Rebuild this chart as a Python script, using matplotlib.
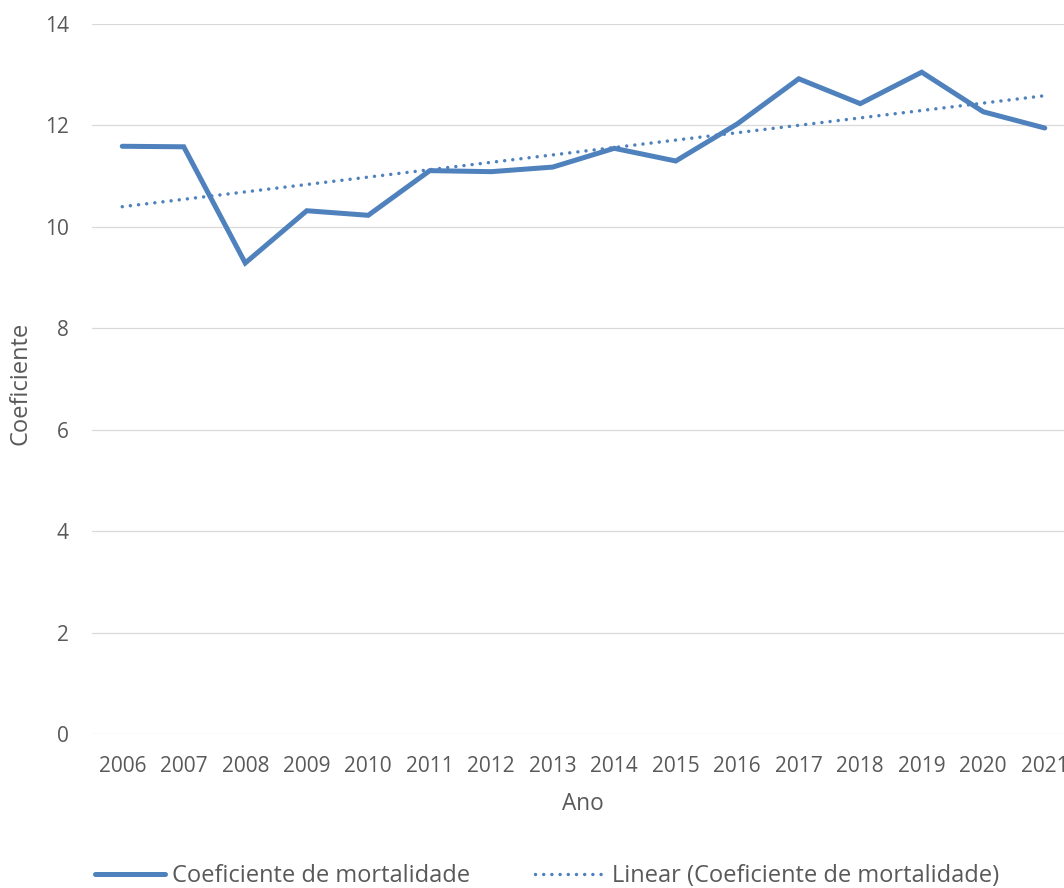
import numpy as np
import matplotlib
matplotlib.use("Agg")
import matplotlib.pyplot as plt

# Data
anos = ["2006", "2007", "2008", "2009", "2010", "2011", "2012", "2013",
        "2014", "2015", "2016", "2017", "2018", "2019", "2020", "2021"]
coeficiente = [11.59, 11.58, 9.29, 10.32, 10.23, 11.11, 11.09, 11.18,
               11.55, 11.30, 12.03, 12.92, 12.43, 13.05, 12.27, 11.95]
y_ticks = [0, 2, 4, 6, 8, 10, 12, 14]

plt.rcParams["font.family"] = ["Open Sans", "DejaVu Sans"]
text_color = "#595959"
line_color = "#4F81BD"

fig = plt.figure(figsize=(10.64, 8.88), dpi=100)
ax = fig.add_axes([0.0860, 0.1729, 0.9248, 0.8001])

x = np.arange(len(anos))
ax.plot(x, coeficiente, color=line_color, linewidth=3.6,
        solid_capstyle="round", solid_joinstyle="miter",
        label="Coeficiente de mortalidade", zorder=3)

# Linear trendline (least squares, as Excel does)
slope, intercept = np.polyfit(x, coeficiente, 1)
ax.plot(x, slope * x + intercept, color=line_color, linewidth=2.5,
        linestyle=(0, (0.01, 2.35)), dash_capstyle="round",
        label="Linear (Coeficiente de mortalidade)", zorder=3)

ax.set_xlim(-0.5, len(anos) - 0.5)
ax.set_ylim(0, 14)
ax.set_xticks(x)
ax.set_xticklabels(anos)
ax.set_yticks(y_ticks)
ax.grid(True, axis="y", color="#D9D9D9", linewidth=0.9)
ax.set_axisbelow(True)
for s in ax.spines.values():
    s.set_visible(False)
ax.tick_params(axis="both", length=0, colors=text_color, labelsize=15)
ax.tick_params(axis="x", pad=15.5)
ax.tick_params(axis="y", pad=16.5)

fig.text(582.5 / 1064, 1 - 804 / 888, "Ano", ha="center", va="center",
         fontsize=16.3, color=text_color)
fig.text(21 / 1064, 1 - 383 / 888, "Coeficiente", ha="center", va="center",
         rotation=90, fontsize=17, color=text_color)

leg = fig.legend(loc="center left", bbox_to_anchor=(95 / 1064, 1 - 876 / 888),
                 ncol=2, frameon=False, fontsize=17, handlelength=2.97,
                 handletextpad=0.3, columnspacing=2.75, borderaxespad=0,
                 borderpad=0)
for t in leg.get_texts():
    t.set_color(text_color)

fig.savefig("out.png", dpi=100)
